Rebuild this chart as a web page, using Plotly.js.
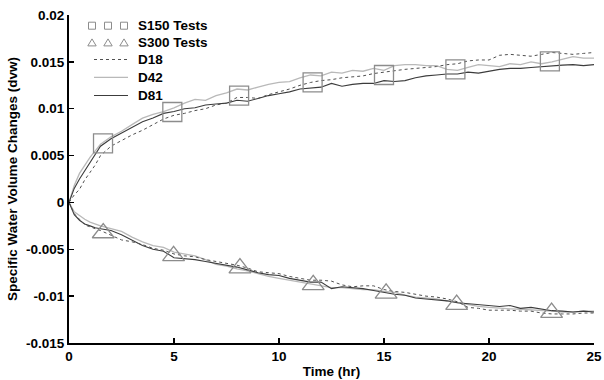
<!DOCTYPE html>
<html>
<head>
<meta charset="utf-8">
<script src="https://cdn.plot.ly/plotly-3.0.1.min.js"></script>
<style>html,body{margin:0;padding:0;background:#fff;}#chart{width:604px;height:380px;}</style>
</head>
<body>
<div id="chart"></div>
<script>
// ---- data ----
const time = [0,0.25,0.5,0.75,1,1.25,1.5,2,2.5,3,3.5,4,4.5,5,5.5,6,6.5,7,7.5,8,8.5,9,9.5,10,10.5,11,11.5,12,12.5,13,13.5,14,14.5,15,15.5,16,16.5,17,17.5,18,18.5,19,19.5,20,20.5,21,21.5,22,22.5,23,23.5,24,24.5,25];

// positive (S150 / wetting) branch
const d18Up = [0,0.0008,0.0014,0.0024,0.0032,0.0040,0.0050,0.0060,0.0066,0.0072,0.0077,0.0083,0.0089,0.0093,0.0095,0.0098,0.0100,0.0104,0.0106,0.0112,0.0112,0.0111,0.0115,0.0118,0.0121,0.0125,0.0128,0.0130,0.0131,0.0133,0.0134,0.0135,0.01375,0.0139,0.0141,0.0142,0.0143,0.0144,0.0145,0.0147,0.0148,0.0151,0.0152,0.0152,0.0157,0.0158,0.0157,0.0156,0.0158,0.0160,0.0159,0.0158,0.0159,0.0160];
const d42Up = [0,0.0018,0.0031,0.0040,0.0048,0.0055,0.0062,0.0070,0.0076,0.0083,0.0090,0.0094,0.0097,0.0101,0.0106,0.0110,0.0109,0.0114,0.0117,0.0121,0.0120,0.0123,0.0126,0.0128,0.0129,0.0133,0.0136,0.0135,0.0139,0.0138,0.0141,0.0140,0.0143,0.0141,0.0146,0.0147,0.0147,0.0146,0.0146,0.0142,0.0141,0.0144,0.0147,0.0146,0.0145,0.0148,0.0147,0.0150,0.0148,0.0150,0.0153,0.01555,0.0154,0.0154];
const d81Up = [0,0.0015,0.0025,0.0034,0.0043,0.0051,0.0060,0.0068,0.0074,0.0080,0.0086,0.0090,0.0095,0.0097,0.0100,0.0101,0.0104,0.0105,0.0106,0.0109,0.0108,0.0111,0.0114,0.0116,0.0118,0.0121,0.0122,0.0123,0.0127,0.0124,0.0126,0.0127,0.0127,0.0130,0.0129,0.0130,0.0133,0.0135,0.0136,0.0137,0.0137,0.0139,0.0138,0.0140,0.0142,0.0143,0.0143,0.0144,0.0145,0.01455,0.01465,0.0147,0.0146,0.0147];

// negative (S300 / drying) branch
const d18Dn = [0,-0.0012,-0.0018,-0.0024,-0.0026,-0.0028,-0.0030,-0.0035,-0.0040,-0.0042,-0.0045,-0.0049,-0.0051,-0.0055,-0.0057,-0.0058,-0.0061,-0.0063,-0.0065,-0.0067,-0.0070,-0.0074,-0.0075,-0.0076,-0.0079,-0.0081,-0.0083,-0.0083,-0.0084,-0.0088,-0.0090,-0.0089,-0.0089,-0.0093,-0.0095,-0.0096,-0.0098,-0.0100,-0.0101,-0.0103,-0.0106,-0.0112,-0.0113,-0.0115,-0.0115,-0.0115,-0.0116,-0.0116,-0.0118,-0.0119,-0.0119,-0.0119,-0.0118,-0.0118];
const d42Dn = [0,-0.0010,-0.0014,-0.0018,-0.0021,-0.0023,-0.0025,-0.0028,-0.0031,-0.0037,-0.0042,-0.0046,-0.0048,-0.0053,-0.0055,-0.0057,-0.0061,-0.0066,-0.0068,-0.0071,-0.0073,-0.0076,-0.0079,-0.0081,-0.0083,-0.0085,-0.0087,-0.0089,-0.0091,-0.0091,-0.0092,-0.0093,-0.0093,-0.0095,-0.0096,-0.0099,-0.0101,-0.0102,-0.0103,-0.0105,-0.0107,-0.0109,-0.0111,-0.0112,-0.0113,-0.01135,-0.0114,-0.01145,-0.0115,-0.0116,-0.0117,-0.0117,-0.0116,-0.0116];
const d81Dn = [0,-0.0013,-0.0019,-0.0023,-0.0025,-0.0027,-0.0028,-0.0030,-0.00345,-0.0040,-0.0046,-0.0050,-0.0052,-0.0059,-0.0060,-0.0061,-0.0063,-0.0065,-0.0067,-0.0069,-0.0072,-0.0075,-0.0077,-0.0078,-0.0081,-0.0083,-0.0085,-0.0085,-0.0092,-0.0090,-0.0091,-0.0092,-0.0094,-0.0096,-0.0098,-0.0099,-0.0102,-0.0103,-0.0104,-0.0105,-0.0107,-0.0108,-0.0109,-0.0110,-0.0111,-0.0110,-0.0113,-0.0112,-0.0114,-0.01155,-0.0116,-0.0117,-0.0116,-0.0117];

// test markers
const s150Time = [1.62,4.92,8.1,11.6,15.0,18.4,22.9];
const s150Vals = [0.0063,0.00965,0.0114,0.0128,0.0136,0.0142,0.01505];
const s300Time = [1.63,4.98,8.14,11.63,15.1,18.46,22.98];
const s300Vals = [-0.00326,-0.0057,-0.0070,-0.0088,-0.0097,-0.0109,-0.01175];

const xTicks = [0,5,10,15,20,25];
const yTicks = [-0.015,-0.01,-0.005,0,0.005,0.01,0.015,0.02];
const yTickText = ['-0.015','-0.01','-0.005','0','0.005','0.01','0.015','0.02'];

const legendNames = ['S150 Tests','S300 Tests','D18','D42','D81'];

// ---- styles ----
const FONT = 'Liberation Sans, Arial, sans-serif';
const C18 = '#505050', C42 = '#b9b9b9', C81 = '#3c3c3c', CMK = '#8c8c8c';

const line = (x, y, color, dash, w) => ({x, y, type:'scatter', mode:'lines', showlegend:false,
  line:{color, dash, width:w}, hoverinfo:'skip'});

const traces = [
  line(time, d42Up, C42, 'solid', 1.3),
  line(time, d42Dn, C42, 'solid', 1.3),
  line(time, d81Up, C81, 'solid', 1.1),
  line(time, d81Dn, C81, 'solid', 1.1),
  line(time, d18Up, C18, 'dot', 1),
  line(time, d18Dn, C18, 'dot', 1),
  {x:s150Time, y:s150Vals, type:'scatter', mode:'markers', showlegend:false,
   marker:{symbol:'square-open', size:19, color:CMK, line:{width:1.3, color:CMK}}},
  {x:s300Time, y:s300Vals, type:'scatter', mode:'markers', showlegend:false,
   marker:{symbol:'triangle-up-open', size:19, color:CMK, line:{width:1.3, color:CMK}}}
];

// ---- custom legend (MATLAB style) ----
const W = 604, H = 380, ML = 69, MR = 10, MT = 15, MB = 37;
const PW = W - ML - MR, PH = H - MT - MB;
const px = v => (v - ML) / PW;
const py = v => (H - MB - v) / PH;

const rowY = [25.7, 42.7, 59.5, 77.3, 95.5];
const glyphX = [92, 108, 124];
const shapes = [];
glyphX.forEach(gx => {
  shapes.push({type:'rect', xref:'paper', yref:'paper',
    x0:px(gx-3.5), x1:px(gx+3.5), y0:py(rowY[0]+3.5), y1:py(rowY[0]-3.5),
    line:{color:CMK, width:1}});
  shapes.push({type:'path', xref:'paper', yref:'paper',
    path:`M ${px(gx-4.2)} ${py(rowY[1]+3.2)} L ${px(gx+4.2)} ${py(rowY[1]+3.2)} L ${px(gx)} ${py(rowY[1]-3.8)} Z`,
    line:{color:CMK, width:1}});
});
const legLine = (row, color, dash, w) => ({type:'line', xref:'paper', yref:'paper',
  x0:px(94), x1:px(128), y0:py(rowY[row]), y1:py(rowY[row]), line:{color, dash, width:w}});
shapes.push(legLine(2, C18, 'dot', 1));
shapes.push(legLine(3, C42, 'solid', 1.3));
shapes.push(legLine(4, C81, 'solid', 1.1));

const annotations = legendNames.map((n, i) => ({
  text:n, xref:'paper', yref:'paper', x:px(136), y:py(rowY[i]), xanchor:'left', yanchor:'middle',
  showarrow:false, font:{family:FONT, size:13.5, weight:'bold', color:'#000'}
}));

const tickFont = {family:FONT, size:13.5, weight:'bold', color:'#000'};

const layout = {
  width:W, height:H,
  margin:{l:ML, r:MR, t:MT, b:MB, pad:0},
  paper_bgcolor:'#fff', plot_bgcolor:'#fff',
  showlegend:false,
  xaxis:{range:[0,25], tickvals:xTicks, ticks:'inside', ticklen:5, tickwidth:1.5, tickcolor:'#000',
    showline:true, linewidth:2, linecolor:'#000', showgrid:false, zeroline:false,
    tickfont:tickFont,
    title:{text:'Time (hr)', font:tickFont, standoff:3}},
  yaxis:{range:[-0.015,0.02], tickvals:yTicks, ticktext:yTickText, ticks:'inside', ticklen:5, tickwidth:1.5, tickcolor:'#000',
    showline:true, linewidth:2, linecolor:'#000', showgrid:false, zeroline:false,
    tickfont:tickFont,
    title:{text:'Specific Water Volume Changes (dvw)', font:tickFont, standoff:5}},
  shapes, annotations
};

Plotly.newPlot('chart', traces, layout, {staticPlot:true, displayModeBar:false});
</script>
</body>
</html>
